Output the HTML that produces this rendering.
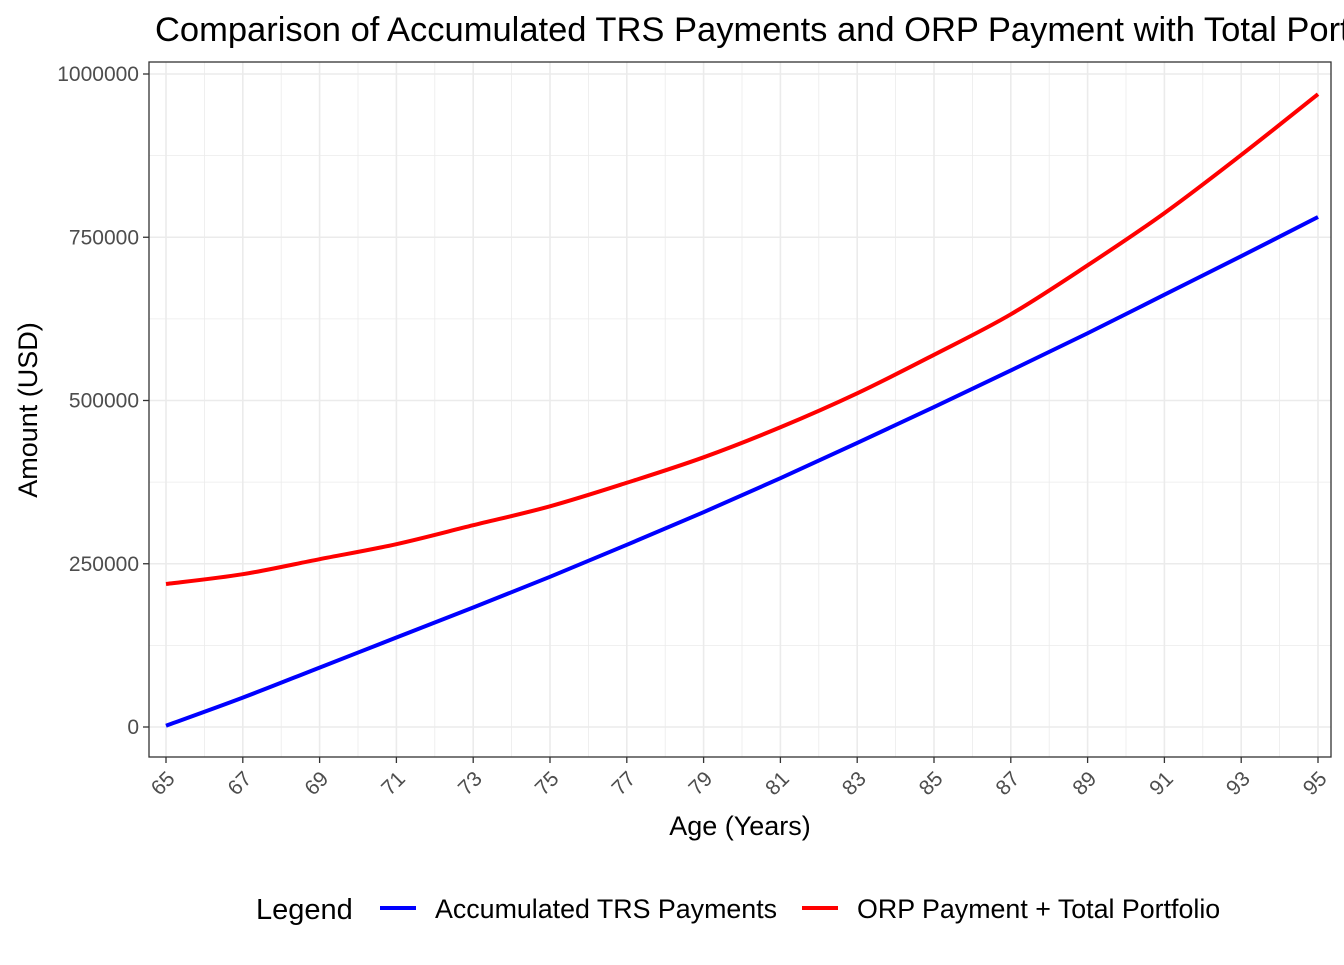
<!DOCTYPE html>
<html><head><meta charset="utf-8"><style>
body{margin:0;background:#fff;width:1344px;height:960px;overflow:hidden;font-family:"Liberation Sans",Arial,sans-serif}
</style></head><body>
<svg id="chart" width="1344" height="960" xmlns="http://www.w3.org/2000/svg">
<text x="155" y="41" fill="#000" style="font-size:34.5px">Comparison of Accumulated TRS Payments and ORP Payment with Total Portfolio</text>
<g id="grid"></g><g id="axes"></g><g id="series"></g>
<text x="740" y="835" text-anchor="middle" style="font-size:27px">Age (Years)</text>
<text transform="translate(37,410) rotate(-90)" text-anchor="middle" style="font-size:27px">Amount (USD)</text>
<g>
<text x="256" y="919" style="font-size:29px">Legend</text>
<g><line x1="380" y1="908" x2="416" y2="908" stroke="#0000ff" stroke-width="4"/><text x="435" y="918" style="font-size:26.8px">Accumulated TRS Payments</text></g>
<g><line x1="802" y1="908" x2="838" y2="908" stroke="#ff0000" stroke-width="4"/><text x="857" y="918" style="font-size:26.8px">ORP Payment + Total Portfolio</text></g>
</g>
</svg>
<script>
const ages=[65,67,69,71,73,75,77,79,81,83,85,87,89,91,93,95];
const trsValues=[2000,45000,91000,137000,183000,230000,279000,329000,381000,435000,490000,546000,603000,662000,721000,781000];
const orpValues=[219000,234000,257000,280000,309000,338000,374000,413000,459000,511000,570000,632000,707000,787000,876000,969000];
const xTicks=[65,67,69,71,73,75,77,79,81,83,85,87,89,91,93,95];
const yTicks=[0,250000,500000,750000,1000000];
const L=149,R=1331,T=62,B=757;
const xs=a=>166+(a-65)*(1318-166)/30;
const ys=v=>727-v*(727-74)/1000000;
const NS="http://www.w3.org/2000/svg";
function mk(p,tag,at){const e=document.createElementNS(NS,tag);for(const k in at)e.setAttribute(k,at[k]);p.appendChild(e);return e;}
const g=document.getElementById('grid'),ax=document.getElementById('axes'),s=document.getElementById('series');
for(let a=64;a<=96;a++){const x=xs(a);if(x<L||x>R)continue;const l=mk(g,'line',{x1:x,x2:x,y1:T,y2:B,stroke:'#ebebeb','stroke-width':a%2?1.6:0.8});

}
for(let v=-125000;v<=1000000;v+=125000){const y=ys(v);if(y<T||y>B)continue;const l=mk(g,'line',{x1:L,x2:R,y1:y,y2:y,stroke:'#ebebeb','stroke-width':v%250000?0.8:1.6});

}
const fr=mk(ax,'rect',{x:L,y:T,width:R-L,height:B-T,fill:'none',stroke:'#333','stroke-width':1.3});


yTicks.forEach(v=>{const y=ys(v);mk(ax,'line',{x1:L-6,x2:L,y1:y,y2:y,stroke:'#333','stroke-width':1.3});
const t=mk(ax,'text',{x:L-10,y:y+7,'text-anchor':'end',fill:'#4d4d4d',style:'font-size:21px'});t.textContent=v;

});
xTicks.forEach(a=>{const x=xs(a);mk(ax,'line',{x1:x,x2:x,y1:B,y2:B+6,stroke:'#333','stroke-width':1.3});
const t=mk(ax,'text',{transform:`translate(${x+10},${B+23}) rotate(-45)`,'text-anchor':'end',fill:'#4d4d4d',style:'font-size:21px'});t.textContent=a;

});
function line(vals,col,name){const P=ages.map((a,i)=>[xs(a),ys(vals[i])]);
let d='M'+P[0][0]+','+P[0][1];
for(let i=0;i<P.length-1;i++){const p0=P[Math.max(0,i-1)],p1=P[i],p2=P[i+1],p3=P[Math.min(P.length-1,i+2)];
d+=`C${p1[0]+(p2[0]-p0[0])/6},${p1[1]+(p2[1]-p0[1])/6} ${p2[0]-(p3[0]-p1[0])/6},${p2[1]-(p3[1]-p1[1])/6} ${p2[0]},${p2[1]}`;}
const p=mk(s,'path',{d:d,fill:'none',stroke:col,'stroke-width':4,'stroke-linejoin':'round'});

}
line(trsValues,'#0000ff','trs-line');
line(orpValues,'#ff0000','orp-line');
</script>
</body></html>
